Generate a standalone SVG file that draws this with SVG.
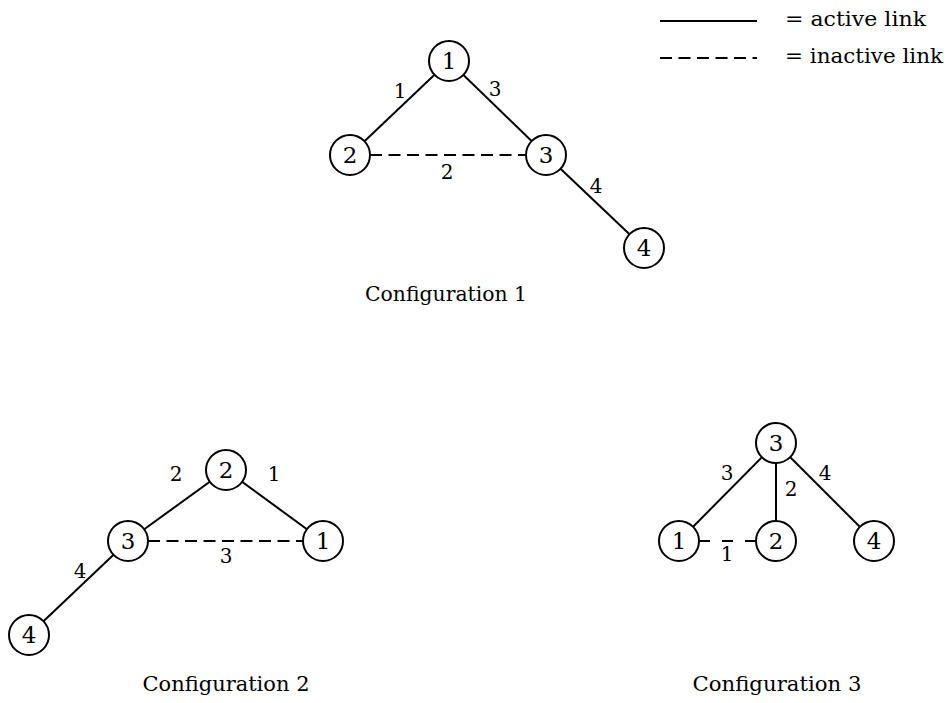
<svg xmlns="http://www.w3.org/2000/svg" width="952" height="703" viewBox="0 0 952 703">
  <style>
    .node circle { fill: #fff; stroke: #000; stroke-width: 2; }
    .node text { font-family: "DejaVu Serif", "Liberation Serif", serif; font-size: 23px; text-anchor: middle; fill: #000; }
    .link { stroke: #000; stroke-width: 2; fill: none; }
    .inactive { stroke-dasharray: 12 6.5; }
    .elabel { font-family: "DejaVu Serif", "Liberation Serif", serif; font-size: 20px; text-anchor: middle; fill: #000; }
    .caption { font-family: "DejaVu Serif", "Liberation Serif", serif; font-size: 20px; text-anchor: middle; fill: #000; }
    .legend { font-family: "DejaVu Serif", "Liberation Serif", serif; font-size: 20px; fill: #000; }
  </style>
  <rect width="952" height="703" fill="#fff"/>

  <!-- legend -->
  <g id="legend">
    <line class="link" x1="660" y1="21" x2="757" y2="21"/>
    <text class="legend" x="785" y="26" textLength="141" lengthAdjust="spacingAndGlyphs">= active link</text>
    <line class="link inactive" x1="660" y1="58" x2="757" y2="58" stroke-dasharray="11 6.2"/>
    <text class="legend" x="785" y="63" textLength="158" lengthAdjust="spacingAndGlyphs">= inactive link</text>
  </g>

  <!-- links -->
  <g id="links">
    <!-- configuration 1 -->
    <line class="link" x1="449" y1="61" x2="350" y2="155"/>
    <line class="link" x1="449" y1="61" x2="546" y2="155"/>
    <line class="link inactive" x1="370" y1="155" x2="527" y2="155"/>
    <line class="link" x1="546" y1="155" x2="644" y2="248"/>
    <!-- configuration 2 -->
    <line class="link" x1="226" y1="470" x2="128" y2="541"/>
    <line class="link" x1="226" y1="470" x2="323" y2="541"/>
    <line class="link inactive" x1="148" y1="541" x2="303" y2="541"/>
    <line class="link" x1="128" y1="541" x2="29" y2="635"/>
    <!-- configuration 3 -->
    <line class="link" x1="776" y1="443" x2="679" y2="541"/>
    <line class="link" x1="776" y1="443" x2="776" y2="541"/>
    <line class="link" x1="776" y1="443" x2="874" y2="541"/>
    <line class="link" x1="699" y1="541" x2="757" y2="541" stroke-dasharray="11 12"/>
  </g>

  <!-- link labels -->
  <g id="link-labels">
    <text class="elabel" x="400" y="98">1</text>
    <text class="elabel" x="495" y="96">3</text>
    <text class="elabel" x="447" y="179">2</text>
    <text class="elabel" x="596" y="193">4</text>

    <text class="elabel" x="176" y="481">2</text>
    <text class="elabel" x="274" y="481">1</text>
    <text class="elabel" x="226" y="563">3</text>
    <text class="elabel" x="80" y="578">4</text>

    <text class="elabel" x="727" y="480">3</text>
    <text class="elabel" x="791" y="496">2</text>
    <text class="elabel" x="825" y="480">4</text>
    <text class="elabel" x="727" y="561">1</text>
  </g>

  <!-- configuration 1 nodes -->
  <g id="c1-n1" class="node"><circle cx="449" cy="61" r="20"/><text x="449" y="69">1</text></g>
  <g id="c1-n2" class="node"><circle cx="350" cy="155" r="20"/><text x="350" y="163">2</text></g>
  <g id="c1-n3" class="node"><circle cx="546" cy="155" r="20"/><text x="546" y="163">3</text></g>
  <g id="c1-n4" class="node"><circle cx="644" cy="248" r="20"/><text x="644" y="256">4</text></g>

  <!-- configuration 2 nodes -->
  <g id="c2-n2" class="node"><circle cx="226" cy="470" r="20"/><text x="226" y="478">2</text></g>
  <g id="c2-n3" class="node"><circle cx="128" cy="541" r="20"/><text x="128" y="549">3</text></g>
  <g id="c2-n1" class="node"><circle cx="323" cy="541" r="20"/><text x="323" y="549">1</text></g>
  <g id="c2-n4" class="node"><circle cx="29" cy="635" r="20"/><text x="29" y="643">4</text></g>

  <!-- configuration 3 nodes -->
  <g id="c3-n3" class="node"><circle cx="776" cy="443" r="20"/><text x="776" y="451">3</text></g>
  <g id="c3-n1" class="node"><circle cx="679" cy="541" r="20"/><text x="679" y="549">1</text></g>
  <g id="c3-n2" class="node"><circle cx="776" cy="541" r="20"/><text x="776" y="549">2</text></g>
  <g id="c3-n4" class="node"><circle cx="874" cy="541" r="20"/><text x="874" y="549">4</text></g>

  <!-- captions -->
  <g id="captions">
    <text class="caption" x="446" y="301" textLength="162" lengthAdjust="spacingAndGlyphs">Configuration 1</text>
    <text class="caption" x="226" y="691" textLength="167" lengthAdjust="spacingAndGlyphs">Configuration 2</text>
    <text class="caption" x="777" y="691" textLength="169" lengthAdjust="spacingAndGlyphs">Configuration 3</text>
  </g>
</svg>
